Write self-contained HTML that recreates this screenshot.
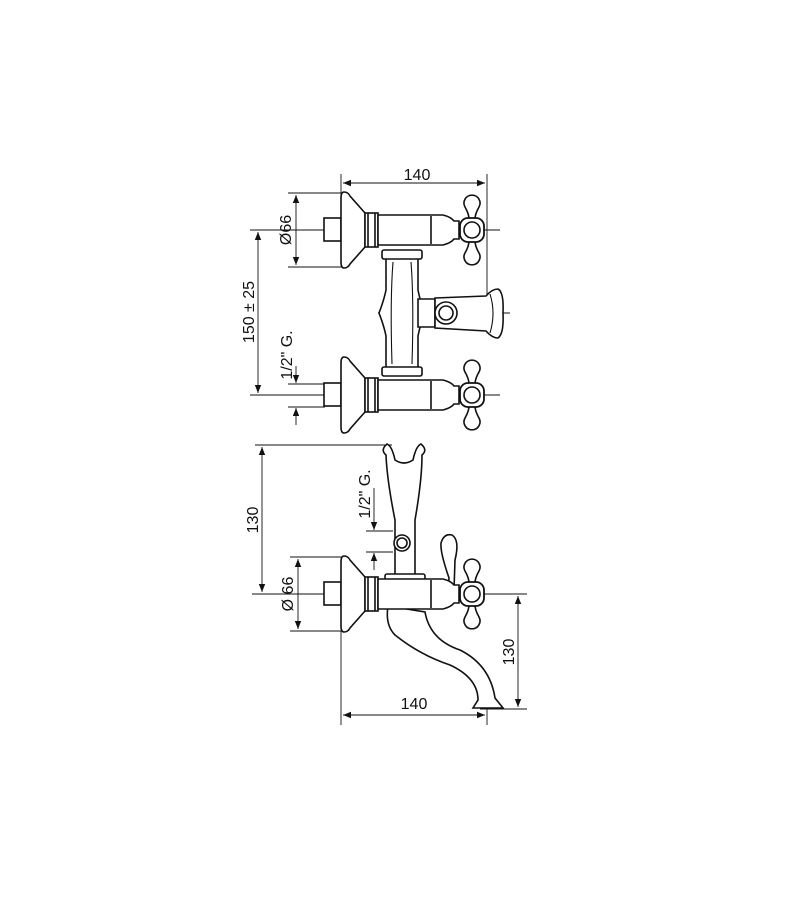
<!DOCTYPE html>
<html><head><meta charset="utf-8"><style>
html,body{margin:0;padding:0;background:#fff}
svg{display:block}
text{font-family:"Liberation Sans",Arial,sans-serif;font-size:16px;fill:#111}
</style></head><body>
<svg width="800" height="900" viewBox="0 0 800 900" xmlns="http://www.w3.org/2000/svg">
<defs>
<marker id="a" viewBox="0 0 10 10" refX="10" refY="5" markerWidth="11" markerHeight="8" orient="auto-start-reverse" markerUnits="userSpaceOnUse"><path d="M0,1 L10,5 L0,9Z" fill="#111"/></marker>
<g id="cross">
<path d="M-3,-11 Q-3,-16 -7,-23 A8,8 0 1 1 7,-23 Q3,-16 3,-11" fill="#fff" stroke="#111" stroke-width="1.6"/>
<path d="M-3,11 Q-3,16 -7,23 A8,8 0 1 0 7,23 Q3,16 3,11" fill="#fff" stroke="#111" stroke-width="1.6"/>
<rect x="-12" y="-12" width="24" height="24" rx="8" fill="#fff" stroke="#111" stroke-width="1.8"/>
<circle r="8" fill="#fff" stroke="#111" stroke-width="1.6"/>
</g>
<g id="valve" fill="#fff" stroke="#111" stroke-width="1.6">
<rect x="-17" y="-12" width="17" height="23"/>
<path d="M3,-38 Q7,-38 9,-34 L24,-17 L24,17 L9,34 Q7,38 3,38 Q0,38 0,32 L0,-32 Q0,-38 3,-38Z"/>
<rect x="24" y="-17" width="13" height="34"/>
<line x1="27" y1="-17" x2="27" y2="17"/><line x1="34" y1="-17" x2="34" y2="17"/>
<path d="M37,-15 L102,-15 Q110,-13 113,-9 L118,-9 L118,9 L113,9 Q110,13 102,15 L37,15Z"/>
<line x1="90" y1="-14" x2="90" y2="14"/>
</g>
</defs>
<g stroke="#111" stroke-width="0.9" fill="none">
<line x1="341" y1="174" x2="341" y2="196"/>
<line x1="487" y1="174" x2="487" y2="300"/>
<line x1="343" y1="183" x2="485" y2="183" marker-start="url(#a)" marker-end="url(#a)"/>
<line x1="288" y1="193" x2="343" y2="193"/><line x1="288" y1="267" x2="343" y2="267"/>
<line x1="296" y1="195" x2="296" y2="265" marker-start="url(#a)" marker-end="url(#a)"/>
<line x1="250" y1="230" x2="500" y2="230"/>
<line x1="250" y1="395" x2="500" y2="395"/>
<line x1="258" y1="232" x2="258" y2="393" marker-start="url(#a)" marker-end="url(#a)"/>
<line x1="378" y1="313" x2="510" y2="313"/>
<line x1="288" y1="384" x2="325" y2="384"/><line x1="288" y1="407" x2="325" y2="407"/>
<line x1="296" y1="366" x2="296" y2="383" marker-end="url(#a)"/>
<line x1="296" y1="425" x2="296" y2="408" marker-end="url(#a)"/>
<line x1="255" y1="445" x2="392" y2="445"/>
<line x1="262" y1="447" x2="262" y2="592" marker-start="url(#a)" marker-end="url(#a)"/>
<line x1="252" y1="594" x2="527" y2="594"/>
<line x1="290" y1="557" x2="343" y2="557"/><line x1="290" y1="631" x2="343" y2="631"/>
<line x1="298" y1="559" x2="298" y2="629" marker-start="url(#a)" marker-end="url(#a)"/>
<line x1="366" y1="531" x2="393" y2="531"/><line x1="366" y1="552" x2="393" y2="552"/>
<line x1="374" y1="488" x2="374" y2="530" marker-end="url(#a)"/>
<line x1="374" y1="570" x2="374" y2="553" marker-end="url(#a)"/>
<line x1="341" y1="631" x2="341" y2="725"/>
<line x1="487" y1="705" x2="487" y2="725"/>
<line x1="343" y1="715" x2="485" y2="715" marker-start="url(#a)" marker-end="url(#a)"/>
<line x1="480" y1="709" x2="527" y2="709"/>
<line x1="518" y1="596" x2="518" y2="707" marker-start="url(#a)" marker-end="url(#a)"/>
</g>
<g fill="#fff" stroke="#111" stroke-width="1.6">
<path d="M386,258 L386,290 Q384,300 379,313 Q384,326 386,336 L386,368 L418,368 L418,336 Q420,326 424,313 Q420,300 418,290 L418,258Z"/>
<path d="M393,262 Q390,300 392,364 M411,262 Q414,300 412,364" fill="none" stroke-width="1.1"/>
<rect x="382" y="250" width="40" height="9" rx="2"/>
<rect x="382" y="367" width="40" height="9" rx="2"/>
<path d="M418,299 L435,299 L435,327 L418,327Z"/>
<path d="M435,298 L486,296 Q492,289 498,289 Q504,292 503,313 Q504,334 498,338 Q492,338 486,331 L435,328Z"/>
<path d="M490,294 Q496,313 490,333" fill="none" stroke-width="1.1"/>
<circle cx="446" cy="313" r="11"/><circle cx="446" cy="313" r="7"/>
</g>
<use href="#valve" x="341" y="230"/>
<use href="#valve" x="341" y="395"/>
<use href="#cross" x="472" y="230"/>
<use href="#cross" x="472" y="395"/>
<g fill="#fff" stroke="#111" stroke-width="1.6">
<path d="M388,606 Q385,625 395,635 Q420,655 450,665 Q478,678 478,700 L473,708 L503,708 L495,698 Q490,665 460,650 Q430,640 425,612Z"/>
<path d="M395,520 L395,575 L415,575 L415,520 Q422,480 422,455 Q428,450 421,444 Q416,446 413,460 Q404,466 395,460 Q392,446 387,444 Q380,450 386,455 Q387,480 395,520Z"/>
<circle cx="402" cy="543" r="8"/><circle cx="402" cy="543" r="5"/>
<rect x="385" y="574" width="40" height="6" rx="2"/>
<path d="M449,578 Q440,552 441,543 Q444,533 452,535 Q460,540 455,560 L454,590 L448,590Z"/>
</g>
<use href="#valve" x="341" y="594"/>
<use href="#cross" x="472" y="594"/>
<text x="417" y="180" text-anchor="middle">140</text>
<text x="414" y="709" text-anchor="middle">140</text>
<text transform="translate(291,230) rotate(-90)" text-anchor="middle">Ø66</text>
<text transform="translate(293,594) rotate(-90)" text-anchor="middle">Ø 66</text>
<text transform="translate(254,312) rotate(-90)" text-anchor="middle">150 ± 25</text>
<text transform="translate(292,355) rotate(-90)" text-anchor="middle">1/2" G.</text>
<text transform="translate(370,494) rotate(-90)" text-anchor="middle">1/2" G.</text>
<text transform="translate(258,520) rotate(-90)" text-anchor="middle">130</text>
<text transform="translate(514,652) rotate(-90)" text-anchor="middle">130</text>
</svg>
</body></html>
